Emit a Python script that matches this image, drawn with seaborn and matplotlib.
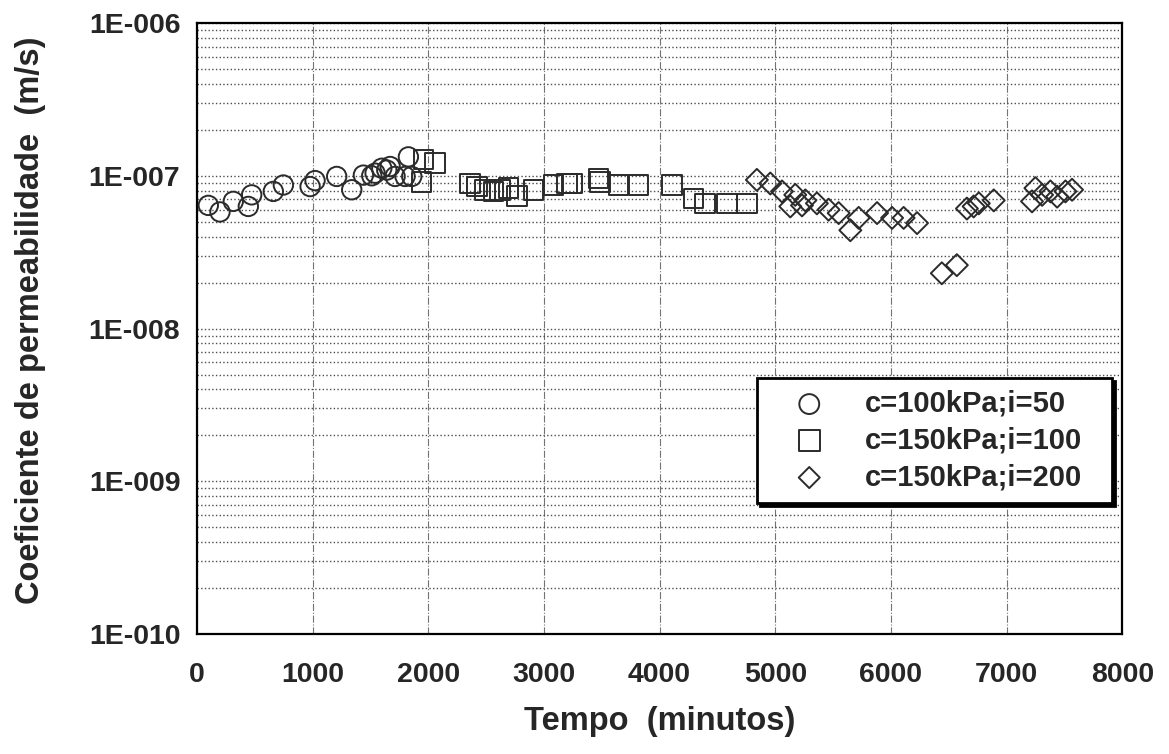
import numpy as np
import pandas as pd
import seaborn as sns
from matplotlib import pyplot as plt
from matplotlib.ticker import LogLocator, FuncFormatter, MultipleLocator, NullFormatter

# tempo (minutos) / coeficiente de permeabilidade (m/s)
t_50 = [98, 199, 314, 444, 473, 660, 747, 978, 1021, 1208, 1338, 1439, 1511,
        1540, 1598, 1641, 1670, 1713, 1799, 1828, 1857]
k_50 = [6.4e-8, 5.8e-8, 6.8e-8, 6.3e-8, 7.5e-8, 7.9e-8, 8.7e-8, 8.5e-8, 9.3e-8,
        9.9e-8, 8.1e-8, 1.01e-7, 1.0e-7, 1.04e-7, 1.12e-7, 1.09e-7, 1.15e-7,
        9.9e-8, 9.9e-8, 1.33e-7, 9.9e-8]

t_100 = [1940, 1958, 2059, 2362, 2420, 2491, 2563, 2621, 2693, 2766, 2910, 3083,
         3198, 3241, 3472, 3486, 3645, 3818, 4106, 4293, 4394, 4582, 4755]
k_100 = [9.1e-8, 1.28e-7, 1.21e-7, 8.9e-8, 8.5e-8, 8.1e-8, 7.9e-8, 8.1e-8, 8.3e-8,
         7.4e-8, 8.1e-8, 8.7e-8, 8.9e-8, 8.9e-8, 9.6e-8, 9.1e-8, 8.7e-8, 8.7e-8,
         8.7e-8, 7.1e-8, 6.6e-8, 6.6e-8, 6.6e-8]

t_200 = [4841, 4957, 5058, 5130, 5173, 5231, 5260, 5360, 5461, 5548, 5649, 5721,
         5880, 6010, 6110, 6226, 6440, 6570, 6657, 6715, 6760, 6889, 7220, 7249,
         7307, 7379, 7437, 7509, 7566]
k_200 = [9.4e-8, 8.9e-8, 7.9e-8, 6.3e-8, 7.5e-8, 6.4e-8, 6.9e-8, 6.6e-8, 6.0e-8,
         5.7e-8, 4.4e-8, 5.3e-8, 5.7e-8, 5.3e-8, 5.3e-8, 4.9e-8, 2.3e-8, 2.6e-8,
         6.1e-8, 6.3e-8, 6.6e-8, 6.9e-8, 6.8e-8, 8.3e-8, 7.5e-8, 7.9e-8, 7.3e-8,
         7.9e-8, 8.1e-8]

series = [
    ("c=100kPa;i=50", t_50, k_50, "o", 195, 205),
    ("c=150kPa;i=100", t_100, k_100, "s", 200, 225),
    ("c=150kPa;i=200", t_200, k_200, "D", 125, 115),
]

sns.set_style("white")
plt.rcParams['font.family'] = ['Liberation Sans', 'DejaVu Sans']
plt.rcParams['font.weight'] = 'bold'

fig = plt.figure(figsize=(11.69, 7.54), dpi=100)
ax = fig.add_axes([0.1685, 0.159, 0.7915, 0.8105])

for label, t, k, mk, size, _ in series:
    df = pd.DataFrame({'tempo': t, 'k': k})
    sns.scatterplot(x='tempo', y='k', data=df, ax=ax, marker=mk, s=size,
                    facecolor='none', edgecolor='#2b2b2b', linewidth=1.4,
                    label=label, zorder=3)

ax.set_yscale('log')
ax.set_xlim(0, 8000)
ax.set_ylim(1e-10, 1e-6)

ax.xaxis.set_major_locator(MultipleLocator(1000))
ax.xaxis.set_minor_locator(MultipleLocator(200))
ax.yaxis.set_major_locator(LogLocator(base=10))
ax.yaxis.set_minor_locator(LogLocator(base=10, subs=np.arange(2, 10)))
ax.yaxis.set_minor_formatter(NullFormatter())
ax.yaxis.set_major_formatter(FuncFormatter(lambda v, p: "1E-%03d" % round(-np.log10(v))))

ax.tick_params(axis='both', which='major', direction='in', length=9, width=1.2,
               labelsize=20.5, pad=12)
ax.tick_params(axis='both', which='minor', direction='in', length=5, width=1)
ax.tick_params(axis='x', which='major', pad=20)

ax.grid(True, axis='x', which='major', color='0.45', linestyle='-.', linewidth=0.8)
ax.grid(True, axis='y', which='both', color='0.3', linestyle=':', linewidth=1.0)
ax.set_axisbelow(True)

for sp in ax.spines.values():
    sp.set_visible(True)
    sp.set_color('black')
    sp.set_linewidth(1.6)

ax.set_xlabel("Tempo  (minutos)", fontsize=23.5, fontweight='bold')
ax.set_ylabel("Coeficiente de permeabilidade  (m/s)", fontsize=23.5, fontweight='bold')
ax.xaxis.set_label_coords(0.5, -0.118)
ax.yaxis.set_label_coords(-0.163, 0.514)

leg = ax.legend(loc='upper left', bbox_to_anchor=(0.605, 0.216, 0.384, 0.203),
                mode='expand', borderaxespad=0,
                fontsize=21, frameon=True, fancybox=False, edgecolor='black',
                framealpha=1, handletextpad=0.5, handlelength=2.8, borderpad=0.4,
                labelspacing=0.3, shadow={'color': 'black', 'alpha': 1})
leg.get_frame().set_linewidth(2)
for h, (_, _, _, _, _, lsize) in zip(leg.legend_handles, series):
    h.set_sizes([lsize])

plt.savefig('out.png', dpi=100)
